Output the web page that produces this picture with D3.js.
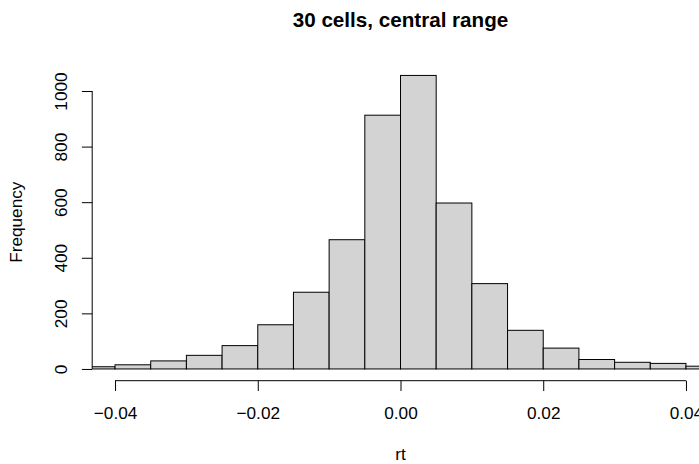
<!DOCTYPE html>
<html>
<head>
<meta charset="utf-8">
<script src="https://cdn.jsdelivr.net/npm/d3@7"></script>
<style>
  body { margin: 0; background: #fff; }
  text { font-family: "Liberation Sans", Arial, Helvetica, sans-serif; }
</style>
</head>
<body>
<div id="chart"></div>
<script>
const binEdges = [-0.045, -0.04, -0.035, -0.03, -0.025, -0.02, -0.015, -0.01, -0.005,
  0, 0.005, 0.01, 0.015, 0.02, 0.025, 0.03, 0.035, 0.04, 0.045];
const counts = [8, 15, 29, 49, 84, 159, 276, 465, 913, 1056, 597, 307, 139, 75, 34, 24, 20, 10];
const xTicks = [-0.04, -0.02, 0, 0.02, 0.04];
const yTicks = [0, 200, 400, 600, 800, 1000];
const xlim = [-0.04, 0.04];

const width = 699, height = 464;
const plot = { left: 92.2, right: 708.8, top: 63.7, bottom: 380.7 };
const fontSize = 17.2;
const lineH = fontSize * 1.2;

const bins = counts.map((c, i) => ({ x0: binEdges[i], x1: binEdges[i + 1], count: c }));

// R style: extend limits by 4% each side
const xPad = (xlim[1] - xlim[0]) * 0.04;
const x = d3.scaleLinear()
  .domain([xlim[0] - xPad, xlim[1] + xPad])
  .range([plot.left, plot.right]);

const yMax = d3.max(counts);
const y = d3.scaleLinear()
  .domain([-0.04 * yMax, 1.04 * yMax])
  .range([plot.bottom, plot.top]);

const svg = d3.select('#chart')
  .append('svg')
  .attr('width', width)
  .attr('height', height);

svg.append('defs')
  .append('clipPath')
  .attr('id', 'plot-clip')
  .append('rect')
  .attr('x', plot.left)
  .attr('y', plot.top)
  .attr('width', plot.right - plot.left)
  .attr('height', plot.bottom - plot.top);

svg.append('g')
  .attr('clip-path', 'url(#plot-clip)')
  .selectAll('rect')
  .data(bins)
  .join('rect')
  .attr('x', d => x(d.x0))
  .attr('y', d => y(d.count))
  .attr('width', d => x(d.x1) - x(d.x0))
  .attr('height', d => y(0) - y(d.count))
  .attr('fill', '#d3d3d3')
  .attr('stroke', '#000')
  .attr('stroke-width', 1);

const tickLen = lineH / 2;

// x axis
const xAxis = svg.append('g')
  .attr('transform', `translate(0, ${plot.bottom})`)
  .call(d3.axisBottom(x)
    .tickValues(xTicks)
    .tickFormat(d3.format('.2f'))
    .tickSize(tickLen)
    .tickPadding(0));
xAxis.select('.domain').remove();
xAxis.append('line')
  .attr('x1', x(xTicks[0]))
  .attr('x2', x(xTicks[xTicks.length - 1]))
  .attr('stroke', '#000');
xAxis.selectAll('.tick line').attr('stroke', '#000');
xAxis.selectAll('.tick text')
  .attr('y', 38.3)
  .attr('dy', null)
  .attr('fill', '#000')
  .style('font-size', fontSize + 'px');

// y axis
const yAxis = svg.append('g')
  .attr('transform', `translate(${plot.left}, 0)`)
  .call(d3.axisLeft(y)
    .tickValues(yTicks)
    .tickFormat(d3.format('d'))
    .tickSize(tickLen));
yAxis.select('.domain').remove();
yAxis.append('line')
  .attr('y1', y(yTicks[0]))
  .attr('y2', y(yTicks[yTicks.length - 1]))
  .attr('stroke', '#000');
yAxis.selectAll('.tick line').attr('stroke', '#000');
yAxis.selectAll('.tick text')
  .attr('x', null)
  .attr('dy', null)
  .attr('transform', 'translate(-25.7, 0) rotate(-90)')
  .attr('text-anchor', 'middle')
  .attr('fill', '#000')
  .style('font-size', fontSize + 'px');

svg.append('text')
  .attr('x', (plot.left + plot.right) / 2)
  .attr('y', 26.5)
  .attr('text-anchor', 'middle')
  .style('font-size', (fontSize * 1.2) + 'px')
  .style('font-weight', 'bold')
  .text('30 cells, central range');

svg.append('text')
  .attr('x', (plot.left + plot.right) / 2)
  .attr('y', 460)
  .attr('text-anchor', 'middle')
  .style('font-size', fontSize + 'px')
  .text('rt');

svg.append('text')
  .attr('transform', `translate(22, ${(plot.top + plot.bottom) / 2}) rotate(-90)`)
  .attr('text-anchor', 'middle')
  .style('font-size', fontSize + 'px')
  .text('Frequency');
</script>
</body>
</html>
